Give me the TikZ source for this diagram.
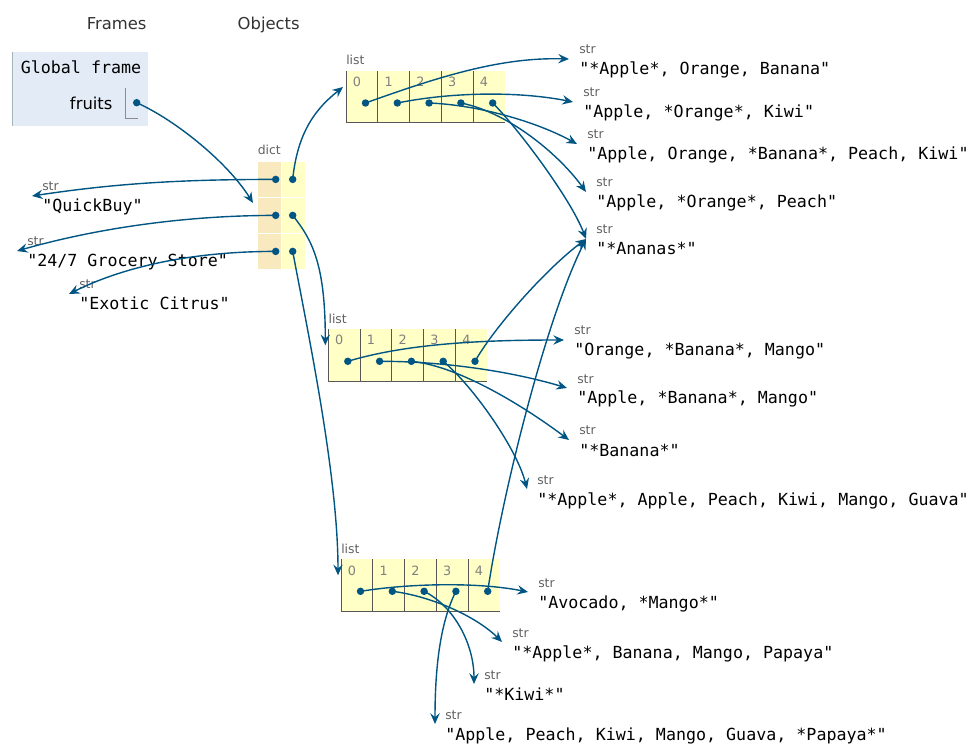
\documentclass[tikz,border=0pt]{standalone}
\usepackage{fontspec}
\setsansfont{DejaVu Sans}
\setmonofont{DejaVu Sans Mono}
\usetikzlibrary{arrows.meta}
\definecolor{ptrblue}{HTML}{005583}
\definecolor{framebg}{HTML}{E2EBF6}
\definecolor{frameedge}{HTML}{A6B3B6}
\definecolor{heapbg}{HTML}{FFFFC6}
\definecolor{keybg}{HTML}{F8E9BF}
\tikzset{
	ptr/.style={draw=ptrblue, line width=1.05pt, -{Stealth[length=8pt,width=7pt,inset=2.8pt]}},
	dot/.style={circle, fill=ptrblue, inner sep=0pt, minimum size=5.6pt},
	typelbl/.style={anchor=base west, inner sep=0pt, text=black!62, font=\sffamily\fontsize{9.3}{11}\selectfont},
	idxlbl/.style={anchor=base west, inner sep=0pt, text=black!50, font=\sffamily\fontsize{9.6}{11}\selectfont},
	strval/.style={anchor=base west, inner sep=0pt, font=\ttfamily\fontsize{12.5}{14}\selectfont},
	heading/.style={anchor=base, inner sep=0pt, text=black!80, font=\sffamily\fontsize{12.3}{14}\selectfont},
	cellline/.style={draw=black!66, line width=0.75pt},
}
\def\strobj(#1)(#2,#3)#4{\node[strval] (#1) at (#2,#3) {#4};
	\node[typelbl] (#1lbl) at ([shift={(0,-21)}]#1.base west) {str};
	\coordinate (#1in) at ([shift={(-10,-16)}]#1.base west);}

\begin{document}
\begin{tikzpicture}[x=0.75pt, y=-0.75pt]
		%%%%% START %%%%%
		\useasboundingbox (0,0) rectangle (978,755);
		
		\node[heading] (frames) at (116.7,30) {Frames};
		\node[heading] (objects) at (268.7,30) {Objects};
		
		\fill[framebg] (12,52) rectangle (148,126);
		\draw[frameedge, line width=0.75pt] (12.4,52) -- (12.4,126);
		\node[strval] (gframe) at (20.5,74) {Global frame};
		\node[heading, anchor=base east, text=black] (fruits) at (112.7,110) {fruits};
		\draw[black!45, line width=0.75pt] (125.7,88) -- (125.7,118.3) -- (137.7,118.3);
		\node[dot] (fruitsptr) at (136.7,102.7) {};
		
		% dict
		\node[typelbl] (dictlbl) at (257.5,155) {dict};
		\foreach \r/\ry in {0/162,1/198,2/234} {
			\fill[keybg] (258,\ry) rectangle (281,\ry+35);
			\fill[heapbg] (282,\ry) rectangle (305,\ry+35);
			\node[dot] (dk\r) at (275.7,\ry+17.4) {};
			\node[dot] (dv\r) at (292.7,\ry+17.4) {};
		}
		\coordinate (dictin) at (253,203);
		
		% lists
		\foreach \lx/\ly/\ln in {346/71/la, 328.3/329.3/lb, 341/559.3/lc} {
			\fill[heapbg] (\lx,\ly) rectangle (\lx+159,\ly+52);
			\draw[cellline] (\lx,\ly+52) -- (\lx+159,\ly+52);
			\node[typelbl] (\ln lbl) at (\lx,\ly-6) {list};
			\coordinate (\ln in) at (\lx-3,\ly+16);
			\foreach \i in {0,...,4} {
				\draw[cellline] (\lx+\i*31.8,\ly) -- (\lx+\i*31.8,\ly+52);
				\node[idxlbl] (\ln idx\i) at (\lx+\i*31.8+6.5,\ly+15.7) {\i};
				\node[dot] (\ln\i) at (\lx+\i*31.8+19.5,\ly+32) {};
			}
		}
		
		% strings
		\strobj(s1)(579,75){"*Apple*, Orange, Banana"}
		\strobj(s2)(583,118){"Apple, *Orange*, Kiwi"}
		\strobj(s3)(587,160){"Apple, Orange, *Banana*, Peach, Kiwi"}
		\strobj(s4)(596,208){"Apple, *Orange*, Peach"}
		\strobj(s5)(596,255){"*Ananas*"}
		\strobj(s6)(574,356){"Orange, *Banana*, Mango"}
		\strobj(s7)(577,404){"Apple, *Banana*, Mango"}
		\strobj(s8)(579,456){"*Banana*"}
		\strobj(s9)(537,505){"*Apple*, Apple, Peach, Kiwi, Mango, Guava"}
		\strobj(s10)(538,608){"Avocado, *Mango*"}
		\strobj(s11)(512,658){"*Apple*, Banana, Mango, Papaya"}
		\strobj(s12)(484,700){"*Kiwi*"}
		\strobj(s13)(445,740){"Apple, Peach, Kiwi, Mango, Guava, *Papaya*"}
		\strobj(qb)(42,212){"QuickBuy"}
		\strobj(gs)(27,267){"24/7 Grocery Store"}
		\strobj(ec)(79,310){"Exotic Citrus"}
		
		% pointers
		\draw[ptr] (fruitsptr.center) .. controls +(40,18) and +(-25,-40) .. (dictin);
		\draw[ptr] (dk0.center) .. controls +(-100,0) and +(80,-12) .. (qbin);
		\draw[ptr] (dk1.center) .. controls +(-100,0) and +(70,-20) .. (gsin);
		\draw[ptr] (dk2.center) .. controls +(-90,0) and +(50,-25) .. (ecin);
		\draw[ptr] (dv0.center) .. controls +(5,-50) and +(-25,20) .. (lain);
		\draw[ptr] (dv1.center) .. controls +(20,25) and +(0,-80) .. (lbin);
		\draw[ptr] (dv2.center) .. controls +(15,80) and +(0,-100) .. (lcin);
		
		\draw[ptr] (la0.center) .. controls +(70,-25) and +(-70,-2) .. (s1in);
		\draw[ptr] (la1.center) .. controls +(60,-12) and +(-50,-10) .. (s2in);
		\draw[ptr] (la2.center) .. controls +(50,2) and +(-40,-22) .. (s3in);
		\draw[ptr] (la3.center) .. controls +(50,10) and +(-25,-35) .. (s4in);
		\draw[ptr] (la4.center) .. controls +(25,25) and +(-15,-40) .. (s5in);
		
		\draw[ptr] (lb0.center) .. controls +(60,-18) and +(-80,0) .. (s6in);
		\draw[ptr] (lb1.center) .. controls +(70,0) and +(-50,-15) .. (s7in);
		\draw[ptr] (lb2.center) .. controls +(50,5) and +(-40,-30) .. (s8in);
		\draw[ptr] (lb3.center) .. controls +(30,25) and +(-10,-40) .. (s9in);
		\draw[ptr] (lb4.center) .. controls +(20,-35) and +(-40,30) .. (s5in);
		
		\draw[ptr] (lc0.center) .. controls +(50,-8) and +(-50,-10) .. (s10in);
		\draw[ptr] (lc1.center) .. controls +(40,5) and +(-25,-25) .. (s11in);
		\draw[ptr] (lc2.center) .. controls +(30,15) and +(0,-40) .. (s12in);
		\draw[ptr] (lc3.center) .. controls +(-15,30) and +(0,-60) .. (s13in);
		\draw[ptr] (lc4.center) .. controls +(15,-100) and +(-40,80) .. (s5in);
		
		%%%%% END %%%%%
\end{tikzpicture}
\end{document}
